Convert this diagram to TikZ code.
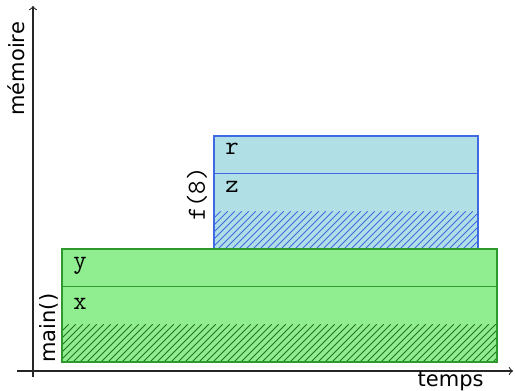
\documentclass[tikz,border=0pt]{standalone}
\usepackage{fontspec}
\setsansfont{DejaVu Sans}
\definecolor{mainfill}{HTML}{90EE90}
\definecolor{mainline}{HTML}{2E9A2E}
\definecolor{ffill}{HTML}{B0E0E6}
\definecolor{fline}{HTML}{4169E1}
\tikzset{
  axis/.style={draw=black!85, line width=0.55pt, ->},
  axislabel/.style={inner sep=0pt, font=\fontsize{10.5}{12}\selectfont\sffamily},
  varlabel/.style={inner sep=0pt, anchor=base west, font=\fontsize{13}{15}\selectfont\ttfamily},
  framelabel/.style={inner sep=0pt, rotate=90},
  hatch/.style={line width=0.45pt},
}
\begin{document}
\begin{tikzpicture}[x=0.5pt, y=-0.5pt]
\useasboundingbox (0,0) rectangle (515,391);

% axes
\coordinate (ybot) at (33,377);
\coordinate (ytop) at (33,6);
\coordinate (xleft) at (17,371);
\coordinate (xright) at (513,371);
\draw[axis] (ybot) -- (ytop);
\draw[axis] (xleft) -- (xright);
\node[axislabel, rotate=90, anchor=base west] (memlabel) at (25,116) {mémoire};
\node[axislabel, anchor=base east] (timelabel) at (484,386) {temps};

% frame of f(8)
\fill[ffill] (214,136) rectangle (478,249);
\begin{scope}
  \clip (214,211.3) rectangle (478,249);
  \foreach \x in {176,183,...,480}
    \draw[hatch, fline] (\x,249) -- ++(37.7,-37.7);
\end{scope}
\draw[fline, line width=0.55pt] (214,136) rectangle (478,249);
\draw[fline, line width=0.55pt] (214,173.7) -- (478,173.7);
\node[varlabel] (rvar) at (225,155) {r};
\node[varlabel] (zvar) at (225,192) {z};
\node[framelabel, font=\fontsize{13}{15}\selectfont\ttfamily] (flabel) at (197,194) {f(8)};

% frame of main()
\fill[mainfill] (62,249) rectangle (497,362);
\begin{scope}
  \clip (62,324.3) rectangle (497,362);
  \foreach \x in {24,31,...,500}
    \draw[hatch, mainline!75!black] (\x,362) -- ++(37.7,-37.7);
\end{scope}
\draw[mainline, line width=0.55pt] (62,249) rectangle (497,362);
\draw[mainline, line width=0.55pt] (62,286.7) -- (497,286.7);
\node[varlabel] (yvar) at (73,268.5) {y};
\node[varlabel] (xvar) at (73,309) {x};
\node[axislabel, rotate=90, anchor=base west] (mainlabel) at (55,363) {main()};
\end{tikzpicture}
\end{document}
